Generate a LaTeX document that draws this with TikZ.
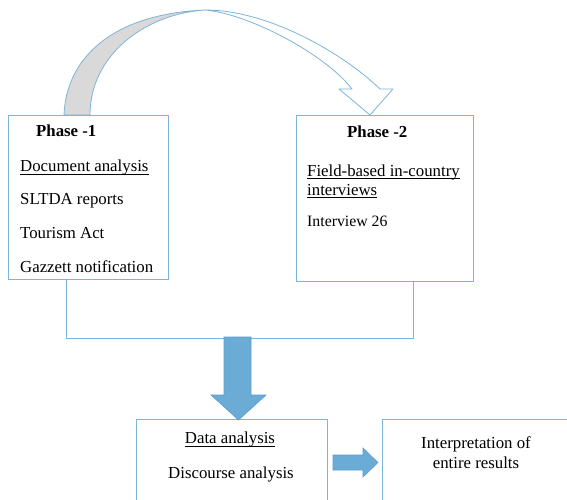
\documentclass[tikz,border=0pt]{standalone}
\usepackage{fontspec}
\setmainfont{Liberation Serif}
\definecolor{boxblue}{RGB}{125,180,220}
\definecolor{arrowblue}{RGB}{107,172,215}
\definecolor{arrowedge}{RGB}{90,155,205}
\definecolor{ribbongray}{RGB}{217,217,217}
\begin{document}
\begin{tikzpicture}[x=1pt,y=-1pt,
  box/.style={draw=boxblue, line width=0.9pt, fill=white, inner sep=0pt},
  txt/.style={inner sep=0pt, anchor=base west, font=\fontsize{16.8}{19}\selectfont},
  ctxt/.style={inner sep=0pt, anchor=base, font=\fontsize{16.8}{19}\selectfont},
  ul/.style={line width=0.9pt, black},
  conn/.style={draw=boxblue, line width=0.9pt},
  blockarrow/.style={fill=arrowblue, draw=arrowedge, line width=0.6pt},
  ribbon/.style={draw=boxblue, line width=0.8pt, line join=round}]
\useasboundingbox (0,0) rectangle (567,500);
\clip (0,0) rectangle (567,500);

% boxes
\node[box, minimum width=160pt, minimum height=164pt] (p1) at (88,197) {};
\node[box, minimum width=177pt, minimum height=166pt] (p2) at (384.5,198) {};
\node[box, minimum width=191pt, minimum height=96pt] (da) at (231.5,467) {};
\node[box, minimum width=218pt, minimum height=96pt] (ir) at (491,467) {};

% curved ribbon arrow (right, white part)
\path[ribbon, fill=white] (205,10) .. controls (270,10) and (345,55) .. (380,89)
  -- (393,89) -- (370,115) -- (339,89) -- (352,89)
  .. controls (326,55) and (250,14) .. (205,10) -- cycle;
% curved ribbon arrow (left, gray part)
\path[ribbon, fill=ribbongray] (64,115) .. controls (66,60) and (110,14) .. (205,10)
  .. controls (145,14) and (90,55) .. (90,115) -- cycle;

% phase 1 text
\node[txt] (h1) at (36,136) {\textbf{Phase -1}};
\node[txt] (d1) at (20,171) {Document analysis};
\draw[ul] ([yshift=-3pt]d1.base west) -- ([yshift=-3pt]d1.base east);
\node[txt] (s1) at (20,204) {SLTDA reports};
\node[txt] (t1) at (20,238) {Tourism Act};
\node[txt] (g1) at (20,272) {Gazzett notification};

% phase 2 text
\node[txt] (h2) at (347,137) {\textbf{Phase -2}};
\node[txt] (f2) at (307,176) {Field-based in-country};
\draw[ul] ([yshift=-2pt]f2.base west) -- ([yshift=-2pt]f2.base east);
\node[txt] (f2b) at (307,195) {interviews};
\draw[ul] ([yshift=-2pt]f2b.base west) -- ([yshift=-2pt]f2b.base east);
\node[txt, font=\fontsize{15.8}{19}\selectfont] (i2) at (307,226) {Interview 26};

% connector joining the two phases
\coordinate (j1) at (66,338);
\coordinate (j2) at (413,338);
\draw[conn] (p1.south -| j1) -- (j1) -- (j2) -- (p2.south -| j2);

% big down arrow
\path[blockarrow] (224,337) -- (251,337) -- (251,395) -- (266,395) -- (238.5,420)
  -- (211,395) -- (224,395) -- cycle;

% data analysis text
\node[ctxt] (dat) at (230,443) {Data analysis};
\draw[ul] ([yshift=-3pt]dat.base west) -- ([yshift=-3pt]dat.base east);
\node[ctxt] (dis) at (231,478) {Discourse analysis};

% small right arrow
\path[blockarrow] (333,455) -- (363,455) -- (363,448) -- (378,462.5) -- (363,477)
  -- (363,470) -- (333,470) -- cycle;

% interpretation text
\node[ctxt] (in1) at (476,448) {Interpretation of};
\node[ctxt] (in2) at (476,468) {entire results};
\end{tikzpicture}
\end{document}
